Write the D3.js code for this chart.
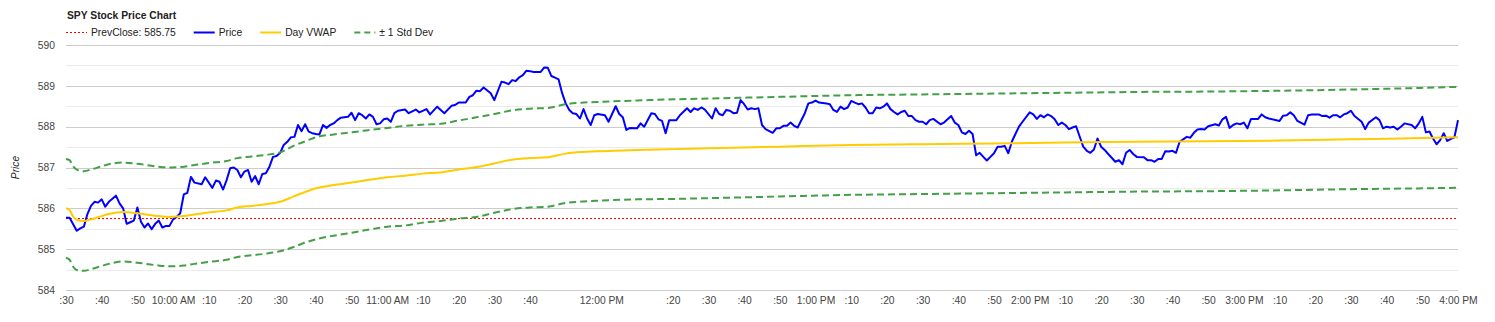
<!DOCTYPE html>
<html>
<head>
<meta charset="utf-8">
<script src="https://cdn.jsdelivr.net/npm/d3@7"></script>
<style>
  body { margin: 0; background: #fff; }
  svg { display: block; }
  text { font-family: Arial, "Liberation Sans", sans-serif; }
</style>
</head>
<body>
<svg id="chart" width="1495" height="322"></svg>
<script>
// Minutes after the 9:30 open and the traded price at each point
const priceMinutes = [0,1,3,4,5,6,7,8,9,10,11,12,14,15,16,17,18,19,20,21,22,23,24,25,26,27,28,29,30,31,32,33,34,35,36,38,39,41,42,43,44,45,46,47,48,49,50,51,52,53,54,55,56,57,58,59,60,61,62,63,64,65,66,67,68,69,70,71,72,73,74,75,76,77,79,80,81,82,83,84,85,86,87,88,89,90,91,92,93,95,96,98,99,101,102,104,106,108,109,110,112,113,114,115,116,117,119,120,122,123,124,125,126,127,128,129,130,131,133,134,135,136,137,138,139,140,141,142,143,144,145,146,147,148,149,151,152,154,155,156,157,158,160,161,162,164,165,166,167,168,169,171,172,174,175,176,177,178,179,181,182,183,184,185,186,187,188,189,190,191,192,193,194,195,196,198,199,200,201,202,203,204,205,207,208,209,210,211,213,214,215,216,217,218,219,220,221,222,223,224,225,226,227,228,229,230,231,232,233,234,235,236,237,238,239,240,241,242,243,245,246,247,248,249,250,251,252,253,254,255,256,257,258,259,260,261,262,263,264,265,266,267,268,270,271,272,273,274,275,276,277,278,279,280,281,282,283,284,285,286,287,288,289,290,291,292,294,295,296,297,298,299,300,302,303,304,305,306,307,308,309,310,311,312,313,314,315,316,317,318,319,320,322,323,324,325,326,327,328,329,330,331,332,334,335,336,337,340,341,342,343,344,345,347,348,349,351,352,353,354,355,356,357,358,359,360,361,363,364,365,367,368,369,370,371,372,373,374,375,377,378,379,380,381,382,383,384,385,386,387,388,389,390];
const priceValues = [585.77,585.77,585.45,585.51,585.55,585.86,586.06,586.16,586.14,586.22,586.04,586.16,586.31,586.12,586.00,585.62,585.66,585.70,586.02,585.67,585.53,585.63,585.49,585.62,585.70,585.53,585.57,585.57,585.73,585.79,585.88,586.34,586.38,586.77,586.63,586.59,586.76,586.50,586.68,586.65,586.46,586.69,586.98,587.00,586.94,586.76,586.90,586.94,586.65,586.79,586.59,586.84,586.86,587.02,587.26,587.28,587.36,587.55,587.63,587.74,587.75,588.04,587.89,588.06,587.88,587.84,587.82,587.81,588.04,587.97,588.04,588.08,588.16,588.22,588.24,588.34,588.16,588.33,588.28,588.20,588.30,588.24,588.06,588.08,588.18,588.20,588.12,588.33,588.39,588.42,588.33,588.42,588.35,588.43,588.30,588.49,588.33,588.51,588.53,588.59,588.59,588.73,588.77,588.88,588.87,588.96,588.82,588.65,589.10,589.08,589.04,589.14,589.12,589.21,589.26,589.37,589.36,589.34,589.34,589.45,589.44,589.24,589.20,589.16,588.82,588.57,588.41,588.33,588.31,588.20,588.43,588.20,588.04,588.28,588.31,588.28,588.12,588.50,588.31,588.23,587.92,587.97,587.96,588.08,588.00,588.33,588.31,588.18,588.14,587.84,588.16,588.16,588.28,588.45,588.36,588.45,588.41,588.47,588.42,588.20,588.45,588.31,588.28,588.41,588.39,588.33,588.34,588.65,588.55,588.42,588.45,588.43,588.45,588.04,587.94,587.85,587.96,587.96,588.02,588.02,588.10,588.02,587.98,588.33,588.57,588.59,588.64,588.59,588.57,588.55,588.41,588.36,588.49,588.43,588.47,588.63,588.59,588.55,588.57,588.47,588.33,588.33,588.47,588.45,588.49,588.57,588.43,588.36,588.30,588.36,588.39,588.26,588.26,588.16,588.12,588.12,588.06,588.16,588.19,588.06,588.10,588.18,588.26,588.10,588.04,587.86,587.82,587.90,587.82,587.30,587.36,587.26,587.17,587.26,587.35,587.51,587.51,587.53,587.35,587.63,587.82,588.00,588.12,588.35,588.30,588.19,588.28,588.23,588.30,588.26,588.18,588.04,588.10,588.04,587.94,587.98,588.01,587.76,587.51,587.41,587.36,587.44,587.71,587.51,587.43,587.33,587.14,587.18,587.08,587.36,587.43,587.33,587.26,587.25,587.18,587.18,587.14,587.21,587.21,587.40,587.39,587.41,587.36,587.63,587.69,587.75,587.73,587.85,587.93,587.94,587.93,588.01,588.06,588.03,588.18,588.24,587.97,588.04,588.08,588.06,588.10,587.96,588.19,588.19,588.30,588.23,588.20,588.14,588.27,588.28,588.35,588.28,588.14,588.05,588.28,588.30,588.30,588.26,588.27,588.22,588.28,588.28,588.23,588.30,588.33,588.39,588.26,588.12,587.94,588.10,588.23,588.16,587.96,588.00,587.98,588.00,587.93,588.00,588.08,588.04,587.96,588.08,588.24,587.86,587.88,587.71,587.57,587.67,587.84,587.65,587.70,587.74,588.16];

// Running day VWAP and its standard deviation band
const bandMinutes = [0,1,2,3,5,7,10,12,16,20,25,29,33,36,40,45,48,52,56,60,64,67,70,75,80,85,90,95,100,105,110,115,120,125,130,135,140,145,150,160,170,180,190,200,220,240,260,280,300,320,340,360,380,390];
const vwapValues = [586.00,585.96,585.80,585.72,585.69,585.73,585.81,585.86,585.91,585.88,585.82,585.79,585.81,585.85,585.90,585.95,586.02,586.06,586.10,586.16,586.30,586.40,586.49,586.57,586.63,586.70,586.76,586.80,586.85,586.88,586.95,587.01,587.10,587.19,587.23,587.25,587.34,587.38,587.40,587.43,587.45,587.47,587.49,587.51,587.55,587.57,587.59,587.61,587.63,587.64,587.66,587.69,587.72,587.74];
const stdDevValues = [1.21,1.22,1.23,1.23,1.22,1.22,1.22,1.22,1.21,1.21,1.21,1.21,1.21,1.21,1.21,1.21,1.21,1.21,1.21,1.21,1.24,1.24,1.25,1.24,1.23,1.22,1.21,1.22,1.20,1.19,1.20,1.22,1.21,1.21,1.21,1.21,1.21,1.21,1.21,1.21,1.22,1.22,1.22,1.22,1.22,1.22,1.22,1.22,1.22,1.22,1.22,1.22,1.23,1.235];

const prevClose = 585.75;

const yTickValues = [584, 585, 586, 587, 588, 589, 590];
const yMinorValues = [584.5, 585.5, 586.5, 587.5, 588.5, 589.5];
const xTickMinutes = [0,10,20,30,40,50,60,70,80,90,100,110,120,130,150,170,180,190,200,210,220,230,240,250,260,270,280,290,300,310,320,330,340,350,360,370,380,390];
const xTickLabels = [":30",":40",":50","10:00 AM",":10",":20",":30",":40",":50","11:00 AM",":10",":20",":30",":40","12:00 PM",":20",":30",":40",":50","1:00 PM",":10",":20",":30",":40",":50","2:00 PM",":10",":20",":30",":40",":50","3:00 PM",":10",":20",":30",":40",":50","4:00 PM"];

const legendNames = ["PrevClose: 585.75", "Price", "Day VWAP", "\u00b1 1 Std Dev"];

const FONT = 10.3;
const colors = { prev: "#ff0000", price: "#0000ff", vwap: "#ffcc00", band: "#43a047" };

const svg = d3.select("#chart");
const plotLeft = 66, plotRight = 1458, plotTop = 45, plotBottom = 290;

const x = d3.scaleLinear().domain([0, 390]).range([plotLeft, plotRight]);
const y = d3.scaleLinear().domain([584, 590]).range([plotBottom, plotTop]);

// Gridlines
const grid = svg.append("g");
grid.selectAll("line.minor").data(yMinorValues).join("line")
  .attr("class", "minor")
  .attr("x1", plotLeft).attr("x2", plotRight)
  .attr("y1", d => Math.round(y(d)) + 0.5).attr("y2", d => Math.round(y(d)) + 0.5)
  .attr("stroke", "#ebebeb").attr("stroke-width", 1);
grid.selectAll("line.major").data(yTickValues).join("line")
  .attr("class", "major")
  .attr("x1", plotLeft).attr("x2", plotRight)
  .attr("y1", d => Math.round(y(d)) + 0.5).attr("y2", d => Math.round(y(d)) + 0.5)
  .attr("stroke", "#cccccc").attr("stroke-width", 1);

// Y axis labels
const yAxis = d3.axisLeft(y).tickValues(yTickValues).tickSize(0).tickPadding(0).tickFormat(d3.format("d"));
svg.append("g").attr("transform", `translate(${55},0)`).call(yAxis)
  .call(g => g.select(".domain").remove())
  .call(g => g.selectAll("text").attr("font-size", FONT).attr("fill", "#444").attr("font-family", null));

// X axis labels
const xAxis = d3.axisBottom(x).tickValues(xTickMinutes).tickSize(0).tickPadding(0)
  .tickFormat((d, i) => xTickLabels[i]);
svg.append("g").attr("transform", `translate(0,${297})`).call(xAxis)
  .call(g => g.select(".domain").remove())
  .call(g => g.selectAll("text").attr("font-size", FONT).attr("fill", "#444").attr("font-family", null));

// Y axis title
svg.append("text")
  .attr("transform", `translate(19,${(plotTop + plotBottom) / 2}) rotate(-90)`)
  .attr("text-anchor", "middle")
  .attr("font-size", FONT).attr("font-style", "italic").attr("fill", "#222")
  .text("Price");

const plot = svg.append("g");

// Previous close reference
plot.append("line")
  .attr("x1", plotLeft).attr("x2", plotRight)
  .attr("y1", y(prevClose)).attr("y2", y(prevClose))
  .attr("stroke", colors.prev).attr("stroke-width", 1).attr("stroke-dasharray", "2,2");

// Price
const priceData = priceMinutes.map((m, i) => [m, priceValues[i]]);
plot.append("path").datum(priceData)
  .attr("fill", "none").attr("stroke", colors.price).attr("stroke-width", 2)
  .attr("stroke-linejoin", "round")
  .attr("d", d3.line().x(d => x(d[0])).y(d => y(d[1])));

// VWAP and ±1σ band
const bandLine = d3.line().curve(d3.curveMonotoneX).x(d => x(d[0])).y(d => y(d[1]));
const vwapData = bandMinutes.map((m, i) => [m, vwapValues[i]]);
const upperData = bandMinutes.map((m, i) => [m, vwapValues[i] + stdDevValues[i]]);
const lowerData = bandMinutes.map((m, i) => [m, vwapValues[i] - stdDevValues[i]]);

plot.append("path").datum(vwapData)
  .attr("fill", "none").attr("stroke", colors.vwap).attr("stroke-width", 2)
  .attr("d", bandLine);
[upperData, lowerData].forEach(data => {
  plot.append("path").datum(data)
    .attr("fill", "none").attr("stroke", colors.band).attr("stroke-width", 2)
    .attr("stroke-dasharray", "7,4")
    .attr("d", bandLine);
});

// Title
svg.append("text")
  .attr("x", 67).attr("y", 19)
  .attr("font-size", FONT).attr("font-weight", "bold").attr("fill", "#222")
  .text("SPY Stock Price Chart");

// Legend
const legendStyles = [
  { color: colors.prev, width: 1, dash: "2,2" },
  { color: colors.price, width: 2, dash: null },
  { color: colors.vwap, width: 2, dash: null },
  { color: colors.band, width: 2, dash: "6,4" }
];
const legend = svg.append("g");
let lx = 66;
const ly = 32;
legendNames.forEach((name, i) => {
  const st = legendStyles[i];
  legend.append("line")
    .attr("x1", lx).attr("x2", lx + 21)
    .attr("y1", ly + 0.5).attr("y2", ly + 0.5)
    .attr("stroke", st.color).attr("stroke-width", st.width)
    .attr("stroke-dasharray", st.dash);
  const t = legend.append("text")
    .attr("x", lx + 25).attr("y", ly + 4)
    .attr("font-size", FONT).attr("fill", "#222")
    .text(name);
  lx += 25 + t.node().getComputedTextLength() + 18;
});
</script>
</body>
</html>
